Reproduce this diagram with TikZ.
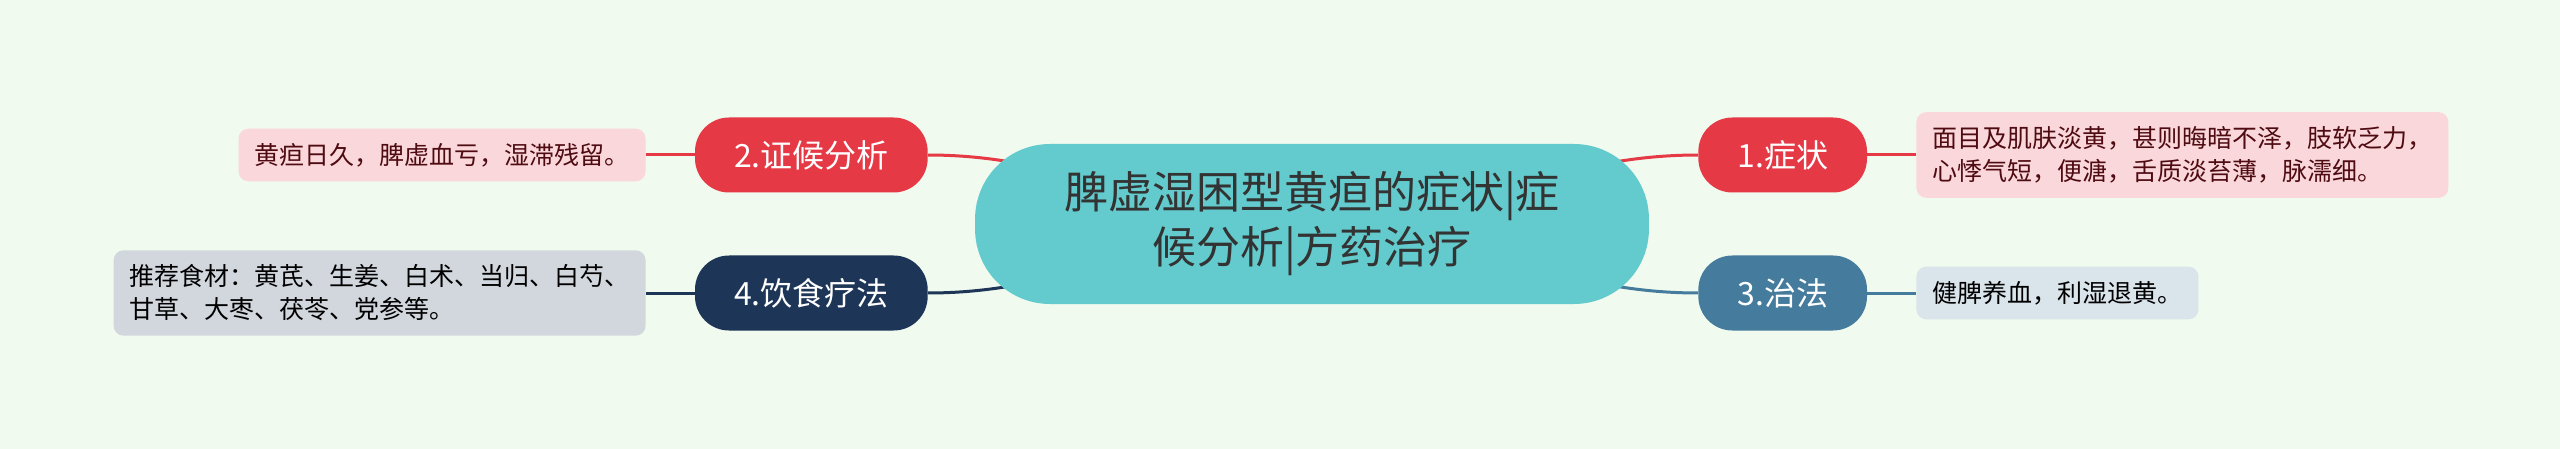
\documentclass[tikz,border=0pt]{standalone}
\usepackage{fontspec}
\setmainfont{Noto Sans CJK SC}
\usetikzlibrary{calc}
\pgfdeclarelayer{background}
\pgfsetlayers{background,main}
\definecolor{bgmint}{HTML}{F1FAEE}
\definecolor{rootteal}{HTML}{63CBCD}
\definecolor{redbranch}{HTML}{E63946}
\definecolor{bluebranch}{HTML}{457B9D}
\definecolor{navybranch}{HTML}{1D3557}
\definecolor{pinknote}{HTML}{FAD7DA}
\definecolor{bluenote}{HTML}{DAE4EB}
\definecolor{navynote}{HTML}{D2D7DE}
\definecolor{maroontext}{HTML}{4E0B12}

\begin{document}
\begin{tikzpicture}[x=1pt,y=-1pt,
        topic/.style={fill=rootteal,rounded corners=75pt,minimum height=160pt,inner xsep=89pt,align=center,text=black!80,font={\fontsize{44}{55}\selectfont}},
        branch/.style={rounded corners=34pt,minimum height=75pt,inner xsep=39pt,text=white,font={\fontsize{32}{36}\selectfont}},
        note/.style={rounded corners=10pt,inner xsep=16pt,inner ysep=14.5pt,align=left,font={\fontsize{25}{33}\selectfont}},
        link/.style={line width=3pt}]
    \useasboundingbox (0,0) rectangle (2560,449);

    \node[topic] (root) at (1312,224) {脾虚湿困型黄疸的症状|症\\候分析|方药治疗};

    % right side
    \node[branch,fill=redbranch,anchor=west] (symptom) at ($ (root.east) + (49,-69) $) {1.症状};
    \node[note,fill=pinknote,text=maroontext,anchor=west] (symptomnote) at ($ (symptom.east) + (49,0) $) {
        面目及肌肤淡黄，甚则晦暗不泽，肢软乏力，\\
        心悸气短，便溏，舌质淡苔薄，脉濡细。
    };
    \node[branch,fill=bluebranch,anchor=west] (therapy) at ($ (root.east) + (49,69) $) {3.治法};
    \node[note,fill=bluenote,anchor=west] (therapynote) at ($ (therapy.east) + (49,0) $) {健脾养血，利湿退黄。};

    % left side
    \node[branch,fill=redbranch,anchor=east] (syndrome) at ($ (root.west) + (-47,-69) $) {2.证候分析};
    \node[note,fill=pinknote,text=maroontext,anchor=east] (syndromenote) at ($ (syndrome.west) + (-49,0) $) {黄疸日久，脾虚血亏，湿滞残留。};
    \node[branch,fill=navybranch,anchor=east] (diet) at ($ (root.west) + (-47,69) $) {4.饮食疗法};
    \node[note,fill=navynote,anchor=east] (dietnote) at ($ (diet.west) + (-49,0) $) {
        推荐食材：黄芪、生姜、白术、当归、白芍、\\
        甘草、大枣、茯苓、党参等。
    };

    \begin{pgfonlayer}{background}
        \fill[bgmint] (0,0) rectangle (2560,449);
        \draw[link,redbranch] (root.center) to[out=0,in=180] (symptom.west);
        \draw[link,bluebranch] (root.center) to[out=0,in=180] (therapy.west);
        \draw[link,redbranch] (root.center) to[out=180,in=0] (syndrome.east);
        \draw[link,navybranch] (root.center) to[out=180,in=0] (diet.east);
        \draw[link,redbranch] (symptom.east) -- (symptomnote.west);
        \draw[link,bluebranch] (therapy.east) -- (therapynote.west);
        \draw[link,redbranch] (syndrome.west) -- (syndromenote.east);
        \draw[link,navybranch] (diet.west) -- (dietnote.east);
    \end{pgfonlayer}
\end{tikzpicture}
\end{document}
